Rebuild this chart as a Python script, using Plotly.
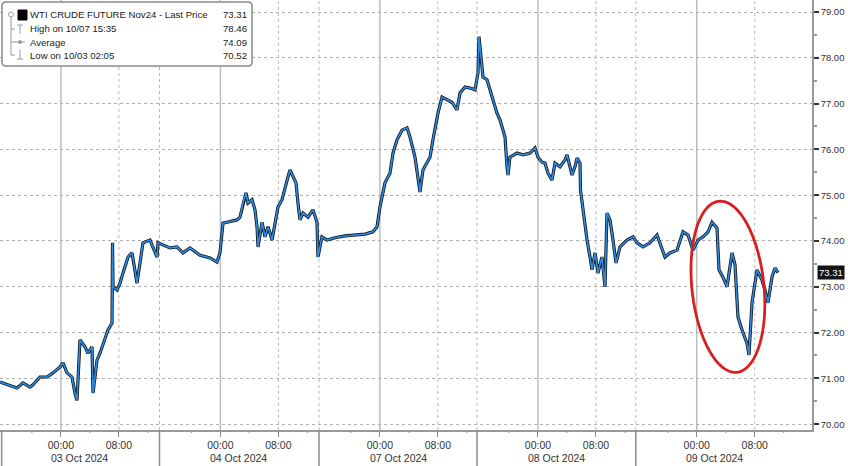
import numpy as np
import plotly.graph_objects as go

# ---------------- data (hours from start of first session, price) ----------------
hours = [
    0.00, 0.97, 2.34, 3.17, 4.14, 4.55, 5.52, 6.48, 7.31, 8.28, 8.69, 9.24, 9.93, 10.34, 10.62,
    11.03, 11.72, 12.14, 12.69, 12.83, 13.38, 13.79, 14.48, 14.90, 15.45, 15.52, 15.59, 16.14,
    16.55, 16.97, 17.66, 18.21, 18.62, 18.90, 19.31, 19.72, 20.69, 21.10, 21.66, 21.79, 23.03,
    23.45, 24.41, 25.24, 26.21, 26.62, 27.59, 28.97, 29.93, 30.34, 30.76, 31.31, 32.69, 33.10,
    33.52, 33.93, 34.21, 34.76, 35.17, 35.45, 35.59, 36.14, 36.55, 36.97, 37.52, 37.93, 38.34,
    38.90, 39.31, 39.72, 40.00, 40.41, 40.83, 41.10, 41.38, 41.79, 42.48, 43.17, 43.72, 43.86,
    44.41, 45.10, 46.21, 47.59, 48.97, 50.34, 51.45, 52.00, 52.41, 53.10, 53.79, 54.21, 54.76,
    55.45, 56.14, 56.55, 57.24, 57.66, 57.93, 58.34, 58.90, 59.31, 59.72, 60.41, 60.97, 61.66,
    62.34, 63.03, 63.45, 64.14, 64.83, 65.52, 65.93, 66.07, 66.34, 66.62, 67.17, 67.59, 68.00,
    68.55, 68.97, 69.38, 69.66, 69.93, 70.07, 70.34, 71.31, 72.14, 73.10, 73.79, 74.21, 74.76,
    75.17, 75.59, 76.14, 76.55, 77.24, 77.93, 78.21, 78.90, 79.31, 79.59, 80.00, 80.07, 80.28,
    80.69, 80.97, 81.38, 81.66, 82.07, 82.48, 83.03, 83.45, 83.72, 84.14, 84.55, 84.97, 85.52,
    86.48, 87.31, 87.86, 88.69, 89.66, 90.62, 91.03, 91.72, 92.41, 93.38, 94.21, 94.90, 95.59,
    96.28, 96.97, 97.66, 98.21, 98.90, 99.17, 99.72, 100.28, 100.97, 101.38, 101.79, 102.34,
    103.03, 103.31, 103.72, 104.41, 105.10, 105.52, 105.93, 106.48, 106.90, 107.31,
]
prices = [
    70.92, 70.86, 70.79, 70.90, 70.81, 70.86, 71.03, 71.03, 71.12, 71.25, 71.34, 71.12, 71.03, 70.68, 70.52,
    71.84, 71.69, 71.55, 71.69, 70.68, 71.40, 71.55, 71.84, 72.06, 72.21, 73.96, 73.00, 72.93,
    73.08, 73.30, 73.65, 73.74, 73.37, 73.08, 73.52, 73.96, 74.02, 73.87, 73.65, 73.96, 73.87,
    73.85, 73.87, 73.74, 73.85, 73.80, 73.69, 73.63, 73.54, 73.74, 74.39, 74.41, 74.46, 74.52,
    74.83, 75.05, 74.83, 74.90, 74.68, 74.31, 73.87, 74.41, 74.09, 74.31, 74.02, 74.39, 74.74,
    74.90, 75.18, 75.40, 75.55, 75.40, 75.27, 74.83, 74.46, 74.61, 74.52, 74.68, 74.41, 73.65,
    74.09, 74.02, 74.07, 74.11, 74.13, 74.15, 74.20, 74.31, 74.74, 75.27, 75.48, 75.92, 76.21,
    76.42, 76.47, 76.27, 75.83, 75.40, 75.07, 75.55, 75.70, 75.83, 76.21, 76.79, 77.14, 77.08,
    77.03, 76.86, 77.23, 77.36, 77.34, 77.30, 77.67, 78.46, 78.02, 77.58, 77.52, 77.30, 77.03,
    76.79, 76.64, 76.42, 76.27, 75.62, 75.44, 75.83, 75.92, 75.88, 75.92, 76.03, 75.83, 75.72,
    75.70, 75.48, 75.33, 75.70, 75.62, 75.77, 75.88, 75.44, 75.62, 75.81, 75.70, 75.11, 74.83,
    74.39, 74.02, 73.65, 73.37, 73.74, 73.30, 73.65, 73.00, 74.61, 74.46, 74.02, 73.52, 73.87,
    74.02, 74.09, 73.96, 73.87, 73.96, 74.13, 73.96, 73.65, 73.74, 73.80, 74.20, 74.13, 73.80,
    74.02, 74.09, 74.20, 74.41, 74.28, 73.37, 73.21, 73.00, 73.74, 73.48, 72.34, 72.06,
    71.77, 71.51, 72.65, 73.37, 73.15, 72.93, 72.65, 73.21, 73.41, 73.31,
]

session_start = [0.0, 22.0, 44.0, 65.8, 87.7]
session_dates = ["03 Oct 2024", "04 Oct 2024", "07 Oct 2024", "08 Oct 2024", "09 Oct 2024"]
time_offsets = [8.4, 16.4]
time_labels = ["00:00", "08:00"]
minor_offsets = [4.4, 12.4, 20.4]
price_ticks = [70, 71, 72, 73, 74, 75, 76, 77, 78, 79]

legend_labels = ["WTI CRUDE FUTURE Nov24 - Last Price", "High on 10/07 15:35", "Average", "Low on 10/03 02:05"]
legend_values = [73.31, 78.46, 74.09, 70.52]
last_price = 73.31

# ---------------- layout constants ----------------
W, H = 848, 466
ML, MR, MT, MB = 0, 36, 0, 36
PW, PH = W - ML - MR, H - MT - MB
X_RANGE = [0, 112]
Y_RANGE = [69.873, 79.262]
PX_PER_X = PW / (X_RANGE[1] - X_RANGE[0])
PX_PER_Y = PH / (Y_RANGE[1] - Y_RANGE[0])

FONT = "Liberation Sans, Arial, sans-serif"


def pxx(p):
    return p / PW


def pxy(p):
    return 1 - p / PH


def xpaper(h):
    return (h - X_RANGE[0]) / (X_RANGE[1] - X_RANGE[0])


fig = go.Figure()
fig.add_trace(go.Scatter(x=hours, y=prices, mode="lines",
                         line=dict(color="#151515", width=3.2), hoverinfo="skip", showlegend=False))
fig.add_trace(go.Scatter(x=hours, y=prices, mode="lines",
                         line=dict(color="#2b8ce6", width=1.6), hoverinfo="skip", showlegend=False))

shapes = []
annotations = []

# vertical grid lines + axis separators
for s, d in zip(session_start, session_dates):
    xm = xpaper(s + time_offsets[0])
    shapes.append(dict(type="line", xref="paper", yref="paper", x0=xm, x1=xm, y0=0, y1=1,
                       line=dict(color="#bdbdbd", width=1.5), layer="below"))
    xe = xpaper(s + time_offsets[1])
    shapes.append(dict(type="line", xref="paper", yref="paper", x0=xe, x1=xe, y0=0, y1=1,
                       line=dict(color="#bbbbbb", width=1, dash="dot"), layer="below"))
    xb = xpaper(s)
    if s > 0:
        shapes.append(dict(type="line", xref="paper", yref="paper", x0=xb, x1=xb, y0=0, y1=1,
                           line=dict(color="#bbbbbb", width=1, dash="dot"), layer="below"))
    shapes.append(dict(type="line", xref="paper", yref="paper", x0=max(xb, 0.002), x1=max(xb, 0.002),
                       y0=0, y1=-MB / PH, line=dict(color="#8c8c8c", width=1.5)))
    for mo in minor_offsets:
        xm2 = xpaper(s + mo)
        shapes.append(dict(type="line", xref="paper", yref="paper", x0=xm2, x1=xm2,
                           y0=0, y1=-3 / PH, line=dict(color="#999999", width=1)))
    annotations.append(dict(x=s + 10.9, y=-28 / PH, xref="x", yref="paper", text=d, showarrow=False,
                            font=dict(family=FONT, size=10.5, color="#333333"),
                            xanchor="center", yanchor="middle"))

# red ellipse highlight
cx, cy = 100.4, 73.0
a_px, b_px, phi = 36.0, 86.0, np.deg2rad(-6)
t = np.linspace(0, 2 * np.pi, 120)
u = a_px * np.cos(t)
v = b_px * np.sin(t)
dx = u * np.cos(phi) - v * np.sin(phi)
dy = u * np.sin(phi) + v * np.cos(phi)
ex = cx + dx / PX_PER_X
ey = cy - dy / PX_PER_Y
path = "M " + " L ".join(f"{x:.4f},{y:.4f}" for x, y in zip(ex, ey)) + " Z"
shapes.append(dict(type="path", xref="x", yref="y", path=path,
                   line=dict(color="#d81e1e", width=2.8)))

# legend box
x0, x1 = pxx(2), pxx(252)
y0, y1 = pxy(66), pxy(2)
rx, ry = 4 / PW, 4 / PH
box = (f"M {x0+rx},{y1} L {x1-rx},{y1} Q {x1},{y1} {x1},{y1-ry} L {x1},{y0+ry} "
       f"Q {x1},{y0} {x1-rx},{y0} L {x0+rx},{y0} Q {x0},{y0} {x0},{y0+ry} "
       f"L {x0},{y1-ry} Q {x0},{y1} {x0+rx},{y1} Z")
shapes.append(dict(type="path", xref="paper", yref="paper", path=box,
                   line=dict(color="#8a8a8a", width=1.5), fillcolor="white"))
row_y = [15, 29, 42, 55]
grey = "#9a9a9a"
# tree connector
shapes.append(dict(type="line", xref="paper", yref="paper", x0=pxx(11), x1=pxx(11), y0=pxy(55), y1=pxy(17),
                   line=dict(color=grey, width=1)))
shapes.append(dict(type="circle", xref="paper", yref="paper", x0=pxx(8.5), x1=pxx(13.5), y0=pxy(17), y1=pxy(12),
                   line=dict(color=grey, width=1), fillcolor="white"))
for ry_ in row_y[1:]:
    shapes.append(dict(type="line", xref="paper", yref="paper", x0=pxx(11), x1=pxx(15), y0=pxy(ry_), y1=pxy(ry_),
                       line=dict(color=grey, width=1)))
# symbols
shapes.append(dict(type="rect", xref="paper", yref="paper", x0=pxx(18), x1=pxx(27), y0=pxy(20), y1=pxy(10),
                   line=dict(color="black", width=1), fillcolor="black"))
shapes.append(dict(type="line", xref="paper", yref="paper", x0=pxx(17), x1=pxx(23), y0=pxy(25), y1=pxy(25),
                   line=dict(color=grey, width=1)))
shapes.append(dict(type="line", xref="paper", yref="paper", x0=pxx(20), x1=pxx(20), y0=pxy(34), y1=pxy(25),
                   line=dict(color=grey, width=1)))
shapes.append(dict(type="line", xref="paper", yref="paper", x0=pxx(15), x1=pxx(25), y0=pxy(42), y1=pxy(42),
                   line=dict(color=grey, width=1)))
shapes.append(dict(type="circle", xref="paper", yref="paper", x0=pxx(18.5), x1=pxx(21.5), y0=pxy(43.5), y1=pxy(40.5),
                   line=dict(color=grey, width=1), fillcolor=grey))
shapes.append(dict(type="line", xref="paper", yref="paper", x0=pxx(20), x1=pxx(20), y0=pxy(59), y1=pxy(50),
                   line=dict(color=grey, width=1)))
shapes.append(dict(type="line", xref="paper", yref="paper", x0=pxx(17), x1=pxx(23), y0=pxy(59), y1=pxy(59),
                   line=dict(color=grey, width=1)))

for lab, val, ry_ in zip(legend_labels, legend_values, row_y):
    annotations.append(dict(x=pxx(28), y=pxy(ry_), xref="paper", yref="paper", text=lab, showarrow=False,
                            xanchor="left", yanchor="middle",
                            font=dict(family=FONT, size=9.6, color="#222222")))
    annotations.append(dict(x=pxx(249), y=pxy(ry_), xref="paper", yref="paper", text=f"{val:.2f}",
                            showarrow=False, xanchor="right", yanchor="middle",
                            font=dict(family=FONT, size=9.6, color="#222222")))

# last price tag
annotations.append(dict(x=1, y=last_price, xref="paper", yref="y", text=f"{last_price:.2f}", showarrow=False,
                        xanchor="left", yanchor="middle", xshift=5, bgcolor="#141414", borderpad=1,
                        font=dict(family=FONT, size=9.5, color="white")))

tickvals_x, ticktext_x = [], []
for s in session_start:
    for off, lab in zip(time_offsets, time_labels):
        tickvals_x.append(s + off)
        ticktext_x.append(lab)

fig.update_layout(
    width=W, height=H, autosize=False,
    margin=dict(l=ML, r=MR, t=MT, b=MB),
    paper_bgcolor="white", plot_bgcolor="white",
    showlegend=False,
    shapes=shapes, annotations=annotations,
    xaxis=dict(range=X_RANGE, showgrid=False, zeroline=False,
               tickmode="array", tickvals=tickvals_x, ticktext=ticktext_x,
               ticks="outside", ticklen=5, tickcolor="#888888", tickwidth=1,
               tickfont=dict(family=FONT, size=10.5, color="#333333"),
               showline=True, linecolor="#999999", linewidth=1.5),
    yaxis=dict(range=Y_RANGE, side="right", zeroline=False,
               tickmode="array", tickvals=price_ticks, ticktext=[f"{v:.2f}" for v in price_ticks],
               showgrid=True, gridcolor="#b0b0b0", griddash="dot", gridwidth=1,
               ticks="outside", ticklen=5, tickwidth=2, tickcolor="#333333",
               tickfont=dict(family=FONT, size=9.5, color="#333333"),
               showline=True, linecolor="#999999", linewidth=1.5,
               minor=dict(tickvals=[v + 0.5 for v in price_ticks], ticks="outside", ticklen=3,
                          tickcolor="#999999", showgrid=False)),
)

fig.write_html("out.html",
               config={"displayModeBar": False},
               post_script="document.body.style.margin='0';document.body.style.padding='0';"
                           "document.body.style.overflow='hidden';")
